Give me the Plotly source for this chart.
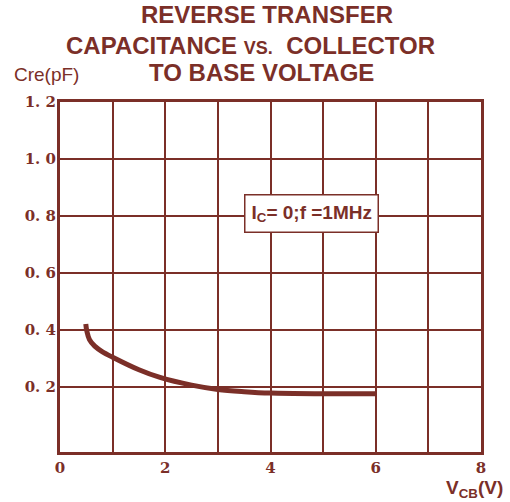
import plotly.graph_objects as go

# Data
vcb = [0.49, 0.51, 0.56, 0.66, 0.8, 1.0, 1.5, 1.9, 2.5, 3.0, 3.5, 4.0, 5.0, 6.0]
cre = [0.42, 0.395, 0.365, 0.342, 0.323, 0.303, 0.259, 0.232, 0.205, 0.19, 0.182, 0.177, 0.175, 0.175]

x_ticks = [0, 2, 4, 6, 8]
x_labels = ["0", "2", "4", "6", "8"]
y_ticks = [0.2, 0.4, 0.6, 0.8, 1.0, 1.2]
y_labels = ["0. 2", "0. 4", "0. 6", "0. 8", "1. 0", "1. 2"]

C = "#7b2f28"

fig = go.Figure()
fig.add_trace(go.Scatter(x=vcb, y=cre, mode="lines",
                         line=dict(color=C, width=5, shape="spline", smoothing=1.0),
                         showlegend=False, hoverinfo="skip"))

axis_common = dict(showline=True, linecolor=C, linewidth=3, mirror=True,
                   showgrid=True, gridcolor=C, gridwidth=2, zeroline=False, automargin=False,
                   ticks="", ticklen=0, tickfont=dict(family="DejaVu Serif", size=15, color=C, weight="bold"))

fig.update_xaxes(range=[0, 8], tickvals=x_ticks, ticktext=x_labels,
                 minor=dict(dtick=1, showgrid=True, gridcolor=C, gridwidth=2, ticks=""),
                 **axis_common)
fig.update_yaxes(range=[-0.03, 1.2], tickvals=y_ticks, ticktext=y_labels, ticklabelstandoff=-2, **axis_common)

title_font = dict(family="Liberation Sans, Arial", size=24, color=C, weight="bold")
fig.add_annotation(text="REVERSE TRANSFER", xref="paper", yref="paper", x=(267-60)/421, y=(502-50-15)/350,
                   showarrow=False, font=title_font, xanchor="center", yanchor="middle")
fig.add_annotation(text="CAPACITANCE <span style='font-size:18px'>VS.</span>  COLLECTOR", xref="paper", yref="paper",
                   x=(250-60)/421, y=(502-50-45)/350,
                   showarrow=False, font=title_font, xanchor="center", yanchor="middle")
fig.add_annotation(text="TO BASE VOLTAGE", xref="paper", yref="paper", x=(261-60)/421, y=(502-50-73)/350,
                   showarrow=False, font=title_font, xanchor="center", yanchor="middle")
fig.add_annotation(text="Cre(pF)", xref="paper", yref="paper", x=(12-60)/421, y=(502-50-75)/350,
                   showarrow=False, font=dict(family="Liberation Sans, Arial", size=19, color=C),
                   xanchor="left", yanchor="middle")
fig.add_annotation(text="V<sub>CB</sub>(V)", xref="paper", yref="paper", x=(505-60)/421, y=(502-50-489)/350,
                   showarrow=False, font=dict(family="Liberation Sans, Arial", size=19, color=C, weight="bold"),
                   xanchor="right", yanchor="middle")
fig.add_annotation(text="I<sub>C</sub>= 0;f =1MHz", xref="paper", yref="paper", x=(311-60)/421, y=(452-213)/350,
                   showarrow=False, font=dict(family="Liberation Sans, Arial", size=19, color=C, weight="bold"),
                   bgcolor="white", bordercolor=C, borderwidth=1.5, borderpad=6,
                   xanchor="center", yanchor="middle")

fig.update_layout(width=510, height=502, margin=dict(l=60, r=29, t=102, b=50),
                  paper_bgcolor="white", plot_bgcolor="white")

fig.write_html("out.html", config={"displayModeBar": False},
               post_script="document.body.style.margin='0';document.body.style.overflow='hidden';")
